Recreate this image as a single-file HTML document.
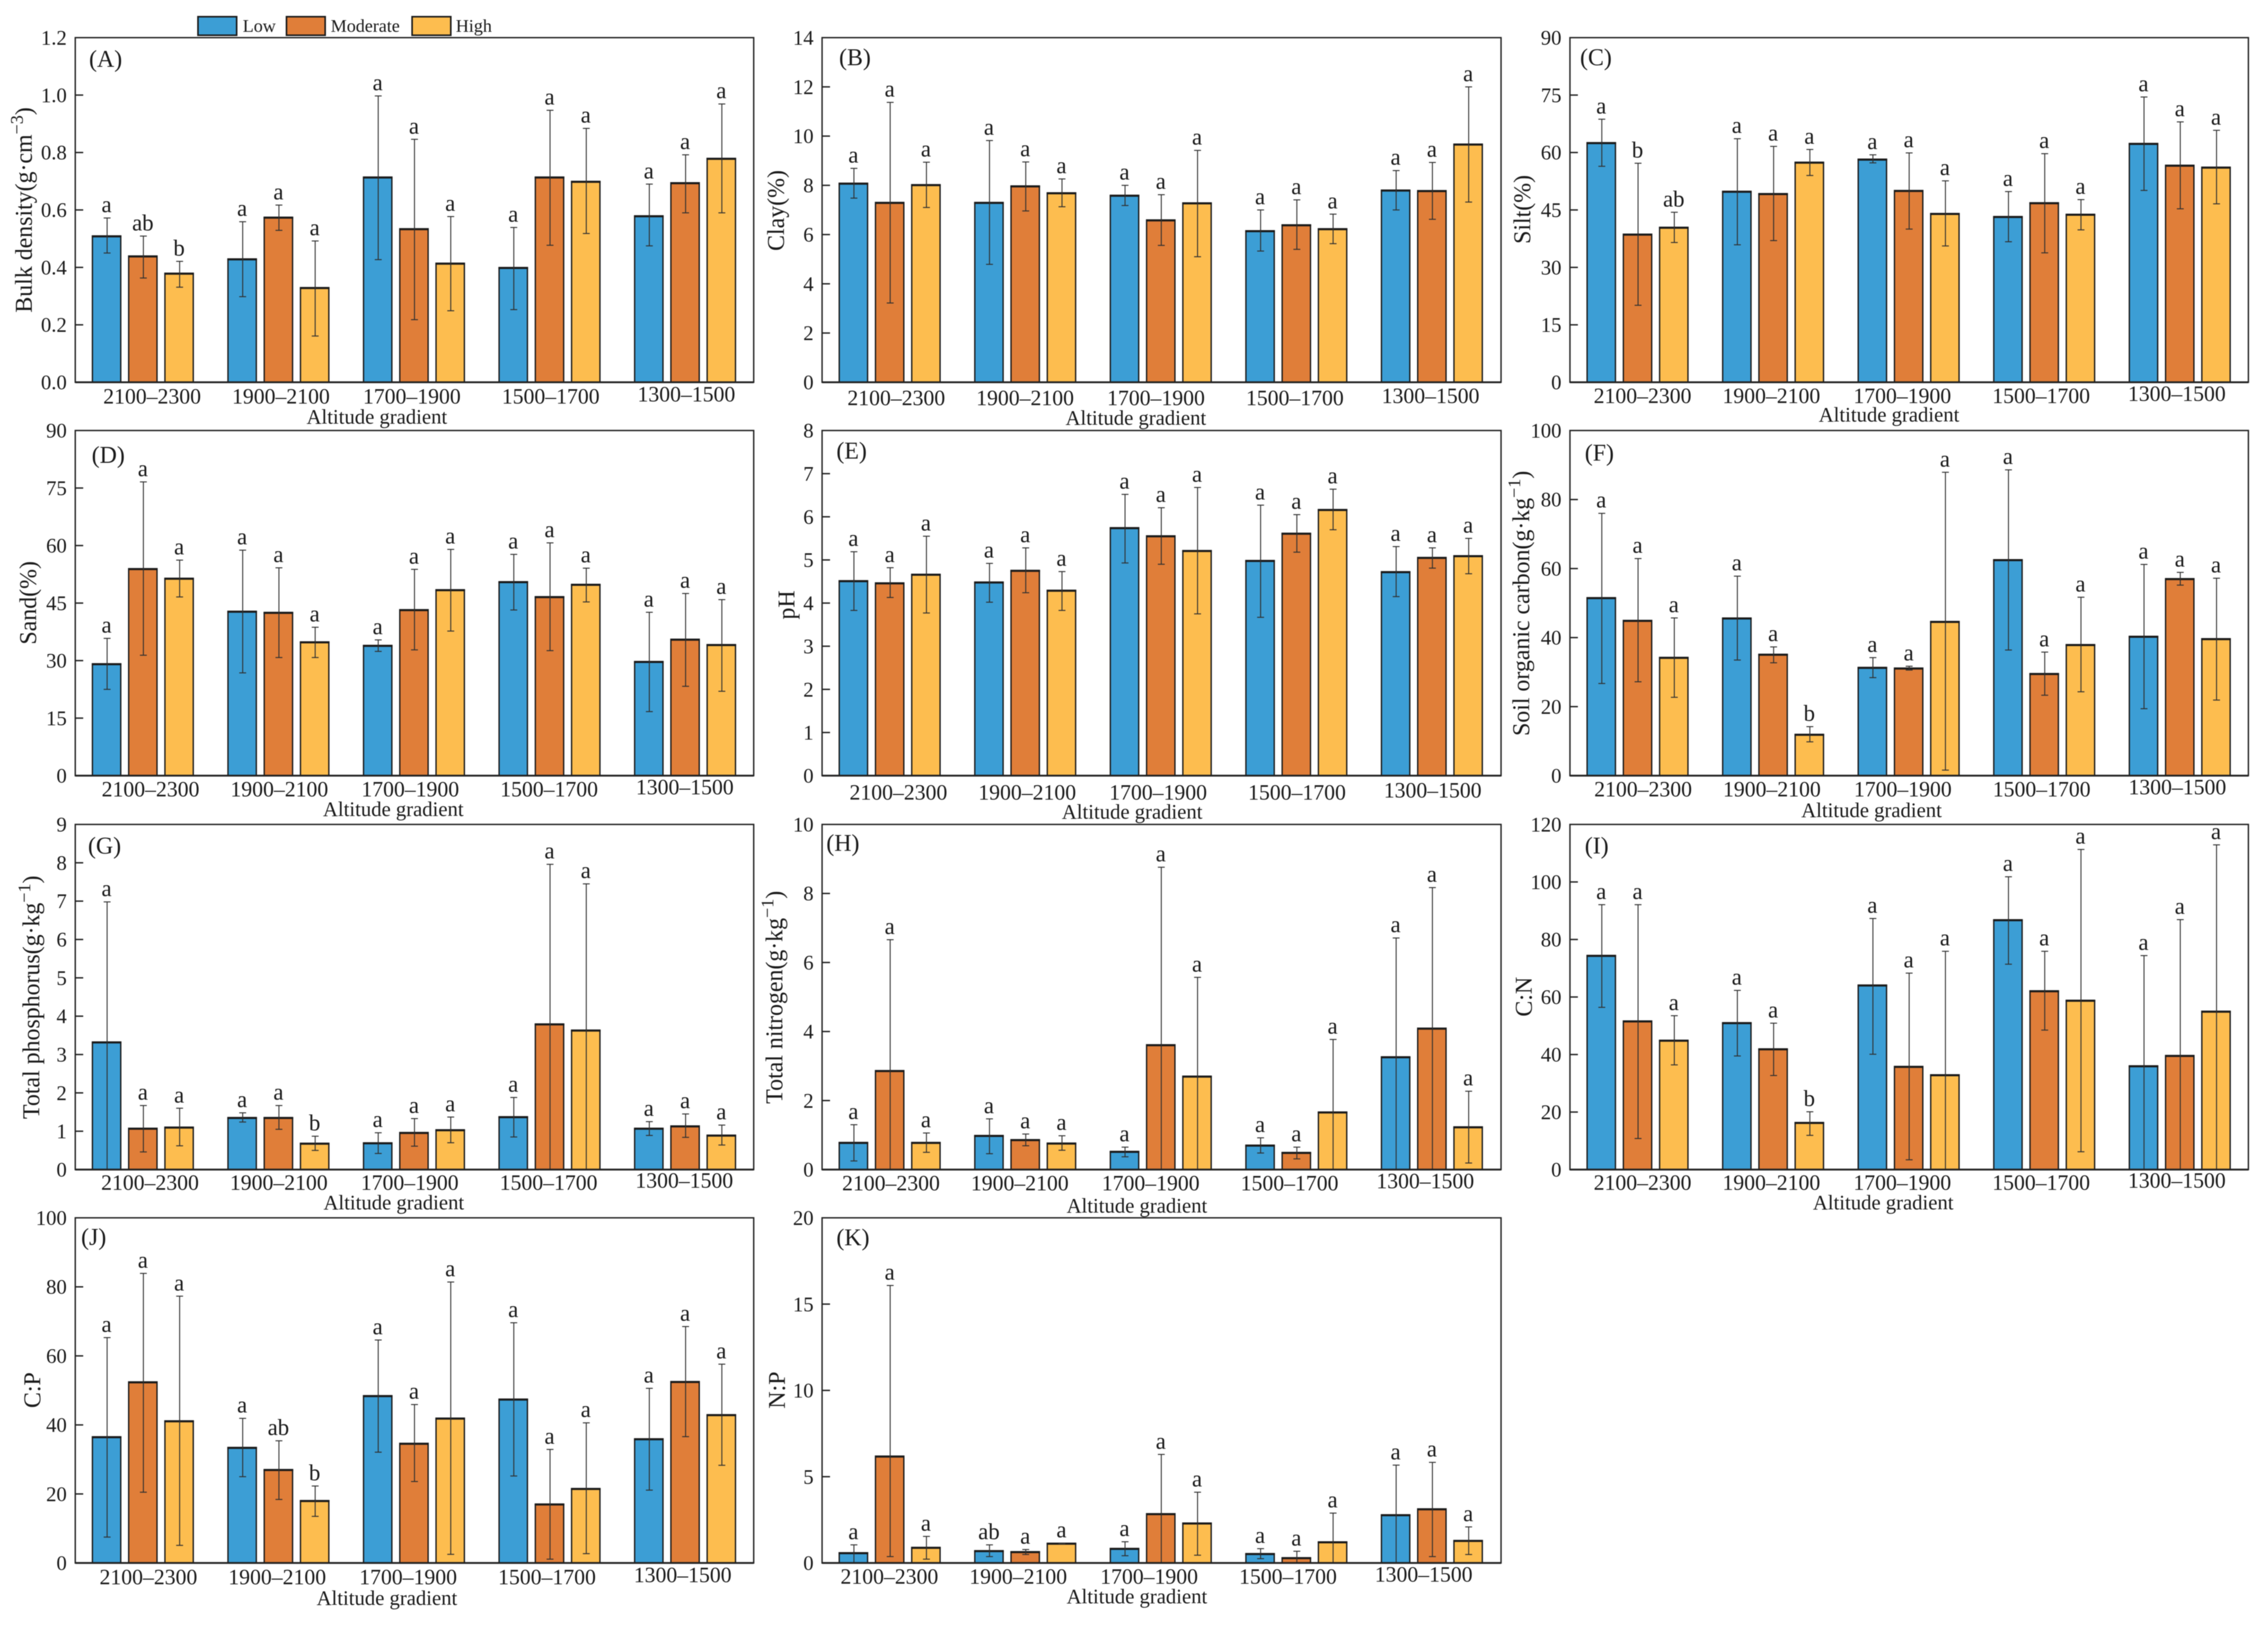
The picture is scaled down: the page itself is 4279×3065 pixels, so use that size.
<!DOCTYPE html>
<html lang="en">
<head>
<meta charset="utf-8">
<title>Soil properties by altitude gradient</title>
<style>
html,body{margin:0;padding:0;background:#fff;}
#figure{display:block;width:4279px;height:3065px;background:#fff;filter:blur(0.7px);}
#figure text{font-family:"Liberation Serif","Times New Roman",serif;fill:#1a1a1a;}
</style>
</head>
<body>
<svg id="figure" xmlns="http://www.w3.org/2000/svg" width="4279" height="3065" viewBox="0 0 4279 3065">
  <g>
    <g>
      <rect x="373.5" y="31.5" width="73" height="35" fill="#3c9ed5" stroke="#1a1a1a" stroke-width="3"/>
      <text x="458" y="60" font-size="34">Low</text>
    </g>
    <g>
      <rect x="540.5" y="31.5" width="73" height="35" fill="#e07e39" stroke="#1a1a1a" stroke-width="3"/>
      <text x="624" y="60" font-size="34">Moderate</text>
    </g>
    <g>
      <rect x="777.5" y="31.5" width="73" height="35" fill="#fdbd4f" stroke="#1a1a1a" stroke-width="3"/>
      <text x="860" y="60" font-size="34">High</text>
    </g>
  </g>
</svg>
<script>
// Shared categories and series
const categories = ['2100–2300','1900–2100','1700–1900','1500–1700','1300–1500'];
const seriesNames = ['Low','Moderate','High'];
const seriesColors = ['#3c9ed5','#e07e39','#fdbd4f'];

// (A) Bulk density
const bulkTicks = ['0.0','0.2','0.4','0.6','0.8','1.0','1.2'];
const bulkMean = [.51,.44,.38,.43,.575,.33,.715,.535,.415,.40,.715,.70,.58,.695,.78];
const bulkUpper = [.572,.509,.421,.559,.617,.492,.997,.846,.577,.539,.947,.884,.690,.792,.969];
const bulkLower = [.45,.363,.331,.298,.529,.161,.427,.218,.249,.253,.477,.518,.475,.590,.590];
const bulkLetters = ['a','ab','b','a','a','a','a','a','a','a','a','a','a','a','a'];

// (B) Clay
const clayTicks = ['0','2','4','6','8','10','12','14'];
const clayMean = [8.09,7.31,8.03,7.31,7.98,7.70,7.6,6.6,7.29,6.16,6.4,6.24,7.81,7.79,9.68];
const clayUpper = [8.69,11.37,8.94,9.82,8.95,8.26,8.0,7.62,9.42,7.0,7.41,6.83,8.6,8.93,12.0];
const clayLower = [7.48,3.22,7.1,4.79,6.96,7.13,7.18,5.56,5.1,5.33,5.4,5.63,7.0,6.62,7.32];
const clayLetters = ['a','a','a','a','a','a','a','a','a','a','a','a','a','a','a'];

// (C) Silt
const siltTicks = ['0','15','30','45','60','75','90'];
const siltMean = [62.6,38.7,40.5,49.9,49.3,57.5,58.3,50.1,44.1,43.3,46.9,43.9,62.4,56.7,56.2];
const siltUpper = [68.7,57.2,44.4,63.6,61.6,60.8,59.4,59.9,52.6,49.8,59.7,47.7,74.5,68,65.8];
const siltLower = [56.4,20.1,36.5,35.9,37,54,57.3,40,35.6,36.7,33.8,39.8,50.1,45.3,46.6];
const siltLetters = ['a','b','ab','a','a','a','a','a','a','a','a','a','a','a','a'];

// (D) Sand
const sandTicks = ['0','15','30','45','60','75','90'];
const sandMean = [29.2,54,51.5,42.9,42.6,34.9,34,43.3,48.5,50.6,46.7,49.9,29.8,35.6,34.2];
const sandUpper = [35.8,76.6,56.2,58.8,54.2,38.7,35.4,53.8,59,57.7,60.7,54.1,42.6,47.5,45.9];
const sandLower = [22.5,31.4,46.6,26.8,30.8,30.8,32.4,32.8,37.7,43.2,32.6,45.3,16.7,23.3,22];
const sandLetters = ['a','a','a','a','a','a','a','a','a','a','a','a','a','a','a'];

// (E) pH
const phTicks = ['0','1','2','3','4','5','6','7','8'];
const phMean = [4.52,4.47,4.67,4.49,4.76,4.30,5.75,5.56,5.22,4.99,5.62,6.17,4.73,5.06,5.10];
const phUpper = [5.19,4.82,5.55,4.92,5.28,4.73,6.52,6.21,6.68,6.27,6.05,6.64,5.31,5.28,5.50];
const phLower = [3.83,4.13,3.77,4.02,4.24,3.83,4.93,4.90,3.75,3.67,5.18,5.70,4.15,4.81,4.68];
const phLetters = ['a','a','a','a','a','a','a','a','a','a','a','a','a','a','a'];

// (F) Soil organic carbon
const socTicks = ['0','20','40','60','80','100'];
const socMean = [51.6,45,34.3,45.7,35.2,12,31.4,31.2,44.7,62.6,29.6,38,40.4,57.1,39.7];
const socUpper = [76,62.9,45.7,57.8,37.3,14.2,34.2,31.7,87.9,88.6,35.8,51.7,61.2,58.9,57.2];
const socLower = [26.7,27.2,22.7,33.5,32.7,9.8,28.4,30.6,1.6,36.4,23.3,24.3,19.4,55.2,21.9];
const socLetters = ['a','a','a','a','a','b','a','a','a','a','a','a','a','a','a'];

// (G) Total phosphorus
const tpTicks = ['0','1','2','3','4','5','6','7','8','9'];
const tpMean = [3.33,1.08,1.11,1.36,1.36,.69,.70,.97,1.04,1.38,3.80,3.64,1.08,1.14,.90];
const tpUpper = [6.98,1.67,1.60,1.48,1.67,.87,.96,1.33,1.37,1.88,7.96,7.45,1.25,1.45,1.16];
const tpLower = [0,.46,.62,1.24,1.05,.50,.42,.61,.70,.85,0,0,.89,.84,.64];
const tpLetters = ['a','a','a','a','a','b','a','a','a','a','a','a','a','a','a'];

// (H) Total nitrogen
const tnTicks = ['0','2','4','6','8','10'];
const tnMean = [.79,2.87,.79,.99,.87,.77,.53,3.62,2.71,.71,.50,1.67,3.27,4.10,1.24];
const tnUpper = [1.30,6.66,1.06,1.47,1.03,.98,.65,8.76,5.57,.92,.65,3.77,6.71,8.17,2.27];
const tnLower = [.25,0,.50,.46,.69,.56,.37,0,0,.48,.31,0,0,0,.19];
const tnLetters = ['a','a','a','a','a','a','a','a','a','a','a','a','a','a','a'];

// (I) C:N
const cnTicks = ['0','20','40','60','80','100','120'];
const cnMean = [74.5,51.7,45,51.1,42,16.4,64.2,35.9,33,86.9,62.2,58.9,36.1,39.7,55.1];
const cnUpper = [92.1,92.1,53.5,62.3,50.9,20.1,87.3,68.3,75.9,101.8,75.9,111.3,74.4,86.9,112.9];
const cnLower = [56.4,10.8,36.4,39.5,32.7,11.9,40.1,3.4,0,71.4,48.5,6.2,0,0,0];
const cnLetters = ['a','a','a','a','a','b','a','a','a','a','a','a','a','a','a'];

// (J) C:P
const cpTicks = ['0','20','40','60','80','100'];
const cpMean = [36.6,52.5,41.2,33.5,27.1,18.1,48.5,34.7,42,47.5,17.1,21.6,36,52.6,43];
const cpUpper = [65.3,83.9,77.3,41.9,35.4,22.3,64.6,45.9,81.4,69.6,32.9,40.6,50.6,68.5,57.6];
const cpLower = [7.5,20.5,5.1,25,18.4,13.5,32.1,23.6,2.5,25.2,1.1,2.7,21.1,36.6,28.3];
const cpLetters = ['a','a','a','a','ab','b','a','a','a','a','a','a','a','a','a'];

// (K) N:P
const npTicks = ['0','5','10','15','20'];
const npMean = [.60,6.2,.91,.72,.66,1.15,.85,2.86,2.32,.55,.31,1.23,2.8,3.14,1.31];
const npUpper = [1.05,16.08,1.54,1.05,.78,1.15,1.23,6.29,4.1,.83,.68,2.89,5.67,5.83,2.09];
const npLower = [0,.37,.22,.37,.49,1.11,.42,0,.45,.25,0,0,0,.37,.49];
const npLetters = ['a','a','a','ab','a','a','a','a','a','a','a','a','a','a','a'];

// Layout of each panel, paired with its data arrays
const COLS = [[142,1422],[1551,2832],[2962,4242]];
const ROWS = [[71,721],[812,1463],[1555,2206],[2297,2948]];
const panels = [
 {tag:'(A)',c:0,r:0,ticks:bulkTicks,mean:bulkMean,up:bulkUpper,lo:bulkLower,let:bulkLetters,title:['Bulk density(g·cm','−3',')'],tx:60,ty:396,lx:168,ly:126,xl:145,xy:761,xty:799,xtx:711},
 {tag:'(B)',c:1,r:0,ticks:clayTicks,mean:clayMean,up:clayUpper,lo:clayLower,let:clayLetters,title:['Clay(%)'],tx:1479,ty:397,lx:1583,ly:123,xl:140,xy:764,xty:801,xtx:2143},
 {tag:'(C)',c:2,r:0,ticks:siltTicks,mean:siltMean,up:siltUpper,lo:siltLower,let:siltLetters,title:['Silt(%)'],tx:2887,ty:395,lx:2981,ly:123,xl:137,xy:760,xty:795,xtx:3564},
 {tag:'(D)',c:0,r:1,ticks:sandTicks,mean:sandMean,up:sandUpper,lo:sandLower,let:sandLetters,title:['Sand(%)'],tx:68,ty:1137,lx:173,ly:873,xl:142,xy:1502,xty:1539,xtx:742},
 {tag:'(E)',c:1,r:1,ticks:phTicks,mean:phMean,up:phUpper,lo:phLower,let:phLetters,title:['pH'],tx:1499,ty:1141,lx:1578,ly:865,xl:144,xy:1508,xty:1544,xtx:2136},
 {tag:'(F)',c:2,r:1,ticks:socTicks,mean:socMean,up:socUpper,lo:socLower,let:socLetters,title:['Soil organic carbon(g·kg','−1',')'],tx:2885,ty:1138,lx:2990,ly:869,xl:138,xy:1502,xty:1541,xtx:3531},
 {tag:'(G)',c:0,r:2,ticks:tpTicks,mean:tpMean,up:tpUpper,lo:tpLower,let:tpLetters,title:['Total phosphorus(g·kg','−1',')'],tx:74,ty:1881,lx:166,ly:1610,xl:141,xy:2244,xty:2281,xtx:743},
 {tag:'(H)',c:1,r:2,ticks:tnTicks,mean:tnMean,up:tnUpper,lo:tnLower,let:tnLetters,title:['Total nitrogen(g·kg','−1',')'],tx:1476,ty:1881,lx:1559,ly:1605,xl:130,xy:2245,xty:2287,xtx:2145},
 {tag:'(I)',c:2,r:2,ticks:cnTicks,mean:cnMean,up:cnUpper,lo:cnLower,let:cnLetters,title:['C:N'],tx:2890,ty:1880,lx:2990,ly:1610,xl:137,xy:2244,xty:2281,xtx:3553},
 {tag:'(J)',c:0,r:3,ticks:cpTicks,mean:cpMean,up:cpUpper,lo:cpLower,let:cpLetters,title:['C:P'],tx:76,ty:2622,lx:153,ly:2348,xl:138,xy:2988,xty:3027,xtx:730},
 {tag:'(K)',c:1,r:3,ticks:npTicks,mean:npMean,up:npUpper,lo:npLower,let:npLetters,title:['N:P'],tx:1481,ty:2622,lx:1578,ly:2349,xl:127,xy:2987,xty:3024,xtx:2145}
];
const LABEL_OFFSETS = [0,243,490,752,1008];

const NS = 'http://www.w3.org/2000/svg';
const root = document.getElementById('figure');
const BAR_W = 56, BAR_STEP = 68.4, GROUP_STEP = 255.75, GROUP_START = 127.5, CAP = 6.5;

function make(tag, attrs, parent){
  const n = document.createElementNS(NS, tag);
  for (const k in attrs) n.setAttribute(k, attrs[k]);
  parent.appendChild(n);
  return n;
}
// Axis functions
function yScale(p, v){
  const [top, bottom] = ROWS[p.r];
  const max = Number(p.ticks[p.ticks.length-1]);
  return bottom - (v / max) * (bottom - top);
}
function xScale(p, i){
  const left = COLS[p.c][0];
  const g = Math.floor(i / seriesNames.length), s = i % seriesNames.length;
  return left + GROUP_START + g * GROUP_STEP + (s - 1) * BAR_STEP;
}

panels.forEach(function(p){
  const [left, right] = COLS[p.c];
  const [top, bottom] = ROWS[p.r];

  const g = make('g', {}, root);
  
  

  // bars
  p.mean.forEach(function(v, i){
    const cx = xScale(p, i), y = yScale(p, v) + 1;
    const bar = make('rect', {x:cx-BAR_W/2+1.25, y:y, width:BAR_W-2.5, height:bottom-y,
      fill:seriesColors[i % 3], stroke:'#1a1a1a', 'stroke-width':2.5}, g);
    
    
    const cap = make('line', {x1:cx-BAR_W/2, x2:cx+BAR_W/2, y1:y, y2:y, stroke:'#1a1a1a', 'stroke-width':4}, g);
    
    
  });

  // error bars and significance letters
  p.mean.forEach(function(v, i){
    const cx = xScale(p, i) + 1, yu = yScale(p, p.up[i]), yl = yScale(p, p.lo[i]);
    const eg = make('g', {stroke:'#2f2f2f', 'stroke-width':1.8, fill:'none'}, g);
    
    
    make('line', {x1:cx, x2:cx, y1:yu, y2:yl}, eg);
    make('line', {x1:cx-CAP, x2:cx+CAP, y1:yu, y2:yu}, eg);
    make('line', {x1:cx-CAP, x2:cx+CAP, y1:yl, y2:yl}, eg);
    const t = make('text', {x:cx-1, y:yu-11, 'text-anchor':'middle', 'font-size':43}, g);
    t.textContent = p.let[i];
    
    
  });

  // y ticks and labels
  p.ticks.forEach(function(label, k){
    const y = yScale(p, Number(label));
    if (k > 0 && k < p.ticks.length - 1){
      const tick = make('line', {x1:left, x2:left+15, y1:y, y2:y, stroke:'#222', 'stroke-width':2.6}, g);
      
      
    }
    const t = make('text', {x:left-16, y:y+13, 'text-anchor':'end', 'font-size':39}, g);
    t.textContent = label;
    
    
  });

  // frame
  const frame = make('rect', {x:left, y:top, width:right-left, height:bottom-top, fill:'none', stroke:'#222', 'stroke-width':2.6}, g);
  
  
  const base = make('line', {x1:left, x2:right, y1:bottom, y2:bottom, stroke:'#222', 'stroke-width':3.6}, g);
  
  

  // x category labels
  categories.forEach(function(cat, k){
    const lift = k === categories.length - 1 ? 4 : 0;
    const t = make('text', {x:left+p.xl+LABEL_OFFSETS[k], y:p.xy-lift, 'text-anchor':'middle', 'font-size':41}, g);
    t.textContent = cat;
    
    
  });

  // x axis title
  const xt = make('text', {x:p.xtx, y:p.xty, 'text-anchor':'middle', 'font-size':39}, g);
  xt.textContent = 'Altitude gradient';
  
  

  // y axis title
  const yt = make('text', {transform:'translate('+p.tx+','+p.ty+') rotate(-90)', 'text-anchor':'middle', 'font-size':45}, g);
  
  
  make('tspan', {}, yt).textContent = p.title[0];
  if (p.title.length > 1){
    make('tspan', {dy:-17, 'font-size':34}, yt).textContent = p.title[1];
    make('tspan', {dy:17}, yt).textContent = p.title[2];
  }

  // panel letter
  const tag = make('text', {x:p.lx, y:p.ly, 'font-size':45}, g);
  tag.textContent = p.tag;
  
  
});
</script>
</body>
</html>
